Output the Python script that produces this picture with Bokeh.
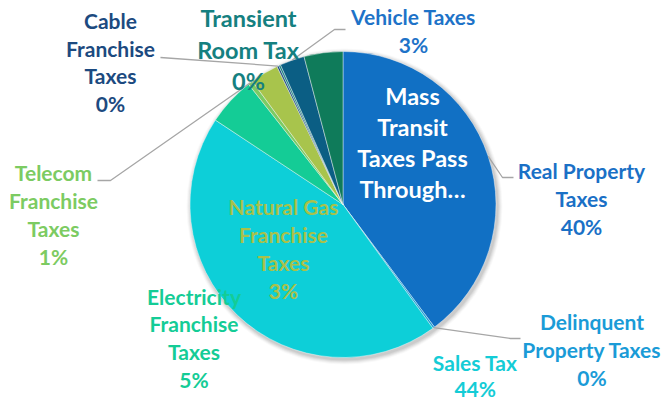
import math
from bokeh.plotting import figure
from bokeh.models import Range1d
from bokeh.core.properties import value
from bokeh.embed import file_html
from bokeh.resources import INLINE

# ---------------- data ----------------
categories = [
    "Real Property Taxes",
    "Delinquent Property Taxes",
    "Sales Tax",
    "Electricity Franchise Taxes",
    "Telecom Franchise Taxes",
    "Natural Gas Franchise Taxes",
    "Cable Franchise Taxes",
    "Transient Room Tax",
    "Vehicle Taxes",
    "Mass Transit Taxes Pass Through",
]
shares = [39.8, 0.2, 44.3, 5.1, 0.5, 3.0, 0.2, 0.2, 2.6, 4.1]
label_lines = [
    ["Real Property", "Taxes"],
    ["Delinquent", "Property Taxes"],
    ["Sales Tax"],
    ["Electricity", "Franchise", "Taxes"],
    ["Telecom", "Franchise", "Taxes"],
    ["Natural Gas", "Franchise", "Taxes"],
    ["Cable", "Franchise", "Taxes"],
    ["Transient", "Room Tax"],
    ["Vehicle Taxes"],
    ["Mass", "Transit", "Taxes Pass", "Through…"],
]
show_pct = [True, True, True, True, True, True, True, True, True, False]

slice_colors = ["#1170C4", "#1A9BD7", "#0DCFD8", "#14CC96", "#7CCB64",
                "#A8C44C", "#1B4A7E", "#147F7F", "#0B5E84", "#0F7B5A"]
label_colors = ["#1A70C6", "#1A9BD7", "#14CCD6", "#14CC96", "#7CCB62",
                "#A9C14A", "#1C4A80", "#158080", "#1E73C8", "#FFFFFF"]

# ---------------- layout (screen px) ----------------
W, H = 661, 402
CX, CY, R = 342.5, 204.0, 153.0
label_x = [581, 591.5, 474.7, 193.5, 53, 283, 110, 248, 413, 412]
label_y = [169.7, 320.7, 362.0, 295.7, 172.3, 205.7, 19.7, 17.5, 15.9, 95.9]
label_step = [28, 28.3, 25.5, 27.6, 27.8, 28, 27.8, 31.5, 28.3, 31]
label_size = [21, 21, 21, 21, 21, 21, 21, 23.5, 21, 23.5]
leader_elbows = {
    0: [(513, 177), (502, 177)],
    1: [(520, 338), (510, 338)],
    4: [(97, 180), (110, 180)],
    6: [(160, 57)],
    8: [(345, 29), (334, 29)],
}

def sy(y):
    return H - y

p = figure(width=W, height=H, output_backend="svg", toolbar_location=None,
           x_range=Range1d(0, W), y_range=Range1d(0, H), min_border=0)
p.axis.visible = False
p.grid.visible = False
p.outline_line_color = None
p.background_fill_color = "white"
p.border_fill_color = "white"

# soft shadow
for k, a in [(5, 0.025), (4, 0.035), (3, 0.045), (2, 0.055), (1, 0.06)]:
    p.circle(x=CX + 1.5, y=sy(CY + 2), radius=R + k, fill_color="black",
             fill_alpha=a, line_color=None)

total = sum(shares)
cum = 0.0
mids = []
starts, ends = [], []
for s in shares:
    a0 = cum / total * 360.0
    cum += s
    a1 = cum / total * 360.0
    starts.append(math.pi / 2 - math.radians(a0))
    ends.append(math.pi / 2 - math.radians(a1))
    mids.append((a0 + a1) / 2)

p.wedge(x=CX, y=sy(CY), radius=R, start_angle=starts, end_angle=ends,
        direction="clock", fill_color=slice_colors, line_color="white",
        line_width=0.6, line_alpha=0.7)

# leader lines
for i, pts in leader_elbows.items():
    th = math.radians(mids[i])
    ex, ey = CX + R * math.sin(th), CY - R * math.cos(th)
    xs = [pt[0] for pt in pts] + [ex]
    ys = [sy(pt[1]) for pt in pts] + [sy(ey)]
    p.line(xs, ys, line_color="#A6A6A6", line_width=1.3)

# labels
for i, name in enumerate(categories):
    lines = list(label_lines[i])
    if show_pct[i]:
        lines.append(f"{int(shares[i] + 0.5)}%")
    xs = [label_x[i]] * len(lines)
    ys = [sy(label_y[i] + j * label_step[i]) for j in range(len(lines))]
    p.text(x=xs, y=ys, text=lines, text_align="center", text_baseline="middle",
           text_font=value("Lato"), text_font_style="bold",
           text_font_size=f"{label_size[i]}px", text_color=label_colors[i])

open("out.html", "w").write(file_html(p, INLINE))
